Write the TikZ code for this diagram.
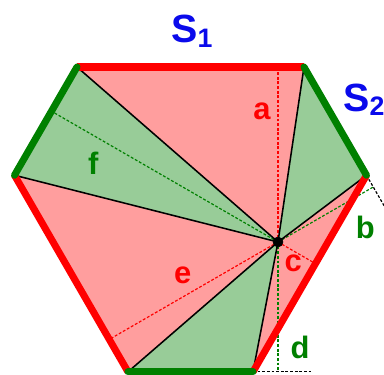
\documentclass[tikz,border=0pt]{standalone}
\usepackage{fontspec}
\setmainfont{Liberation Sans}
\usetikzlibrary{calc}
\definecolor{rside}{RGB}{255,0,0}
\definecolor{gside}{RGB}{0,128,0}
\definecolor{rfill}{RGB}{255,158,158}
\definecolor{gfill}{RGB}{152,204,152}
\definecolor{sblue}{RGB}{10,10,235}
\tikzset{
  rs/.style={draw=rside,line width=5pt},
  gs/.style={draw=gside,line width=5pt,line cap=round},
  rf/.style={fill=rfill},
  gf/.style={fill=gfill},
  spk/.style={draw=black,line width=1.1pt},
  pd/.style={line width=.85pt,dash pattern=on 2pt off 1.3pt},
  rd/.style={pd,draw=rside},
  gd/.style={pd,draw=gside},
  kd/.style={pd,draw=black},
  dot/.style={circle,draw=black,fill=black,minimum size=2.5mm,inner sep=0pt},
  lb/.style={font=\fontsize{22}{22}\selectfont\bfseries,inner sep=0pt},
  lbr/.style={lb,text=rside},
  lbg/.style={lb,text=gside},
  sd/.style={font=\fontsize{28}{28}\selectfont\bfseries,text=sblue,inner sep=0pt},
}
\begin{document}
\begin{tikzpicture}
\useasboundingbox (0,0) rectangle (9.6,9.375);
% ---------------- the hexagon and the point inside
\coordinate (v1) at (1.925,7.7);
\coordinate (v2) at (7.6,7.7);
\coordinate (v3) at ($(v2)+(-60:3.125)$);
\coordinate (v4) at ($(v3)+(-120:5.675)$);
\coordinate (v5) at ($(v4)+(180:3.125)$);
\coordinate (v6) at ($(v5)+(120:5.675)$);
\coordinate (P) at (6.95,3.325);
% feet of the perpendiculars
\coordinate (fa) at ($(v1)!(P)!(v2)$);
\coordinate (fb) at ($(v2)!(P)!(v3)$);
\coordinate (fc) at ($(v3)!(P)!(v4)$);
\coordinate (fd) at ($(v4)!(P)!(v5)$);
\coordinate (fe) at ($(v5)!(P)!(v6)$);
\coordinate (ff) at ($(v6)!(P)!(v1)$);
\coordinate (xb) at ($(v2)!1.5!(v3)$);
\coordinate (xd) at ($(fd)+(0.85,0)$);
% ---------------- triangles
\fill[rf] (P)--(v1)--(v2)--cycle;
\fill[gf] (P)--(v2)--(v3)--cycle;
\fill[rf] (P)--(v3)--(v4)--cycle;
\fill[gf] (P)--(v4)--(v5)--cycle;
\fill[rf] (P)--(v5)--(v6)--cycle;
\fill[gf] (P)--(v6)--(v1)--cycle;
% ---------------- distances
\draw[kd] (v3) -- (xb);
\draw[kd] (v4) -- (xd);
\draw[rd] (P) -- (fa);
\draw[gd] (P) -- (fb);
\draw[rd] (P) -- (fc);
\draw[gd] (P) -- (fd);
\draw[rd] (P) -- (fe);
\draw[gd] (P) -- (ff);
\foreach \v in {v1,v2,v3,v4,v5,v6}
  \draw[spk] (P) -- (\v);
% ---------------- sides
\draw[rs] (v1) -- (v2);
\draw[rs] (v3) -- (v4);
\draw[rs] (v5) -- (v6);
\draw[gs] (v2) -- (v3);
\draw[gs] (v4) -- (v5);
\draw[gs] (v6) -- (v1);
\node[dot] (pt) at (P) {};
% ---------------- labels
\node[lbr] (la) at (6.55,6.58) {a};
\node[lbg] (lb) at (9.13,3.68) {b};
\node[lbr] (lc) at (7.33,2.8) {c};
\node[lbg] (ld) at (7.5,0.7) {d};
\node[lbr] (le) at (4.57,2.5) {e};
\node[lbg] (lf) at (2.33,5.3) {f};
\node[sd] (s1) at (4.8,8.6) {S\raisebox{-.12em}{\fontsize{19}{19}\selectfont 1}};
\node[sd,anchor=west] (s2) at (8.58,6.88) {S\raisebox{-.12em}{\fontsize{19}{19}\selectfont 2}};
\end{tikzpicture}
\end{document}
